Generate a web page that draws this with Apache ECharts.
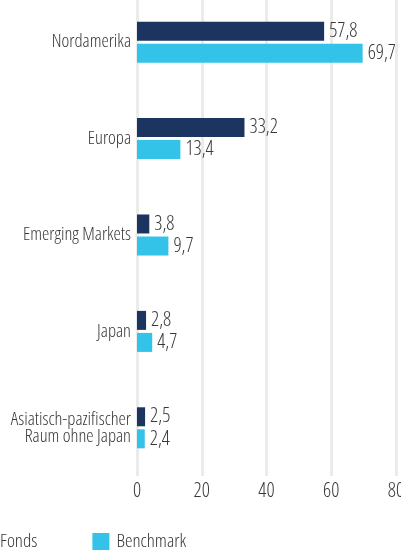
<!DOCTYPE html>
<html>
<head>
<meta charset="utf-8">
<script src="https://cdn.jsdelivr.net/npm/echarts@6/dist/echarts.min.js"></script>
<style>
  html, body { margin: 0; padding: 0; background: #fff; }
  #chart { width: 401px; height: 550px; }
</style>
</head>
<body>
<div id="chart"></div>
<script>
// Daten
var categories = ['Nordamerika', 'Europa', 'Emerging Markets', 'Japan', 'Asiatisch-pazifischer\nRaum ohne Japan']
var fonds = [57.8, 33.2, 3.8, 2.8, 2.5]
var benchmark = [69.7, 13.4, 9.7, 4.7, 2.4]
var seriesNames = ['Fonds', 'Benchmark']

// schmale Schrift (Open Sans, condensed light)
var FONT = '"Open Sans", sans-serif'
var W = '300 condensed'
var TXT = '#383838'

function fmt (p) {
  return String(p.value).replace('.', ',')
}

var myChart = echarts.init(document.getElementById('chart'))
myChart.setOption({
  animation: false,
  textStyle: { fontFamily: FONT, fontWeight: W },
  grid: { left: 137, right: 5, top: -6, bottom: 74, outerBoundsMode: 'none', containLabel: false },
  legend: {
    data: seriesNames,
    left: -24,
    top: 532,
    padding: 0,
    itemWidth: 17,
    itemHeight: 17,
    itemGap: 55,
    icon: 'rect',
    textStyle: { fontFamily: FONT, fontWeight: W, fontSize: 19, color: TXT, padding: [0, 0, 0, 2] }
  },
  xAxis: {
    type: 'value',
    min: 0,
    max: 80,
    interval: 20,
    axisLine: { show: false },
    axisTick: { show: false },
    splitLine: { lineStyle: { color: '#ebebeb', width: 3 } },
    axisLabel: { fontFamily: FONT, fontWeight: W, fontSize: 20, color: TXT, margin: 5 }
  },
  yAxis: {
    type: 'category',
    data: categories,
    inverse: true,
    axisLine: { show: false },
    axisTick: { show: false },
    axisLabel: { fontFamily: FONT, fontWeight: W, fontSize: 18.5, color: TXT, margin: 6, lineHeight: 17 }
  },
  series: [
    {
      name: seriesNames[0],
      type: 'bar',
      data: fonds,
      barWidth: 19,
      barGap: '16%',
      itemStyle: { color: '#1b3560' },
      label: { show: true, position: 'right', distance: 5, formatter: fmt, fontFamily: FONT, fontWeight: W, fontSize: 20, color: TXT }
    },
    {
      name: seriesNames[1],
      type: 'bar',
      data: benchmark,
      barWidth: 19,
      itemStyle: { color: '#33c3e8' },
      label: { show: true, position: 'right', distance: 5, formatter: fmt, fontFamily: FONT, fontWeight: W, fontSize: 20, color: TXT }
    }
  ]
})
</script>
</body>
</html>
